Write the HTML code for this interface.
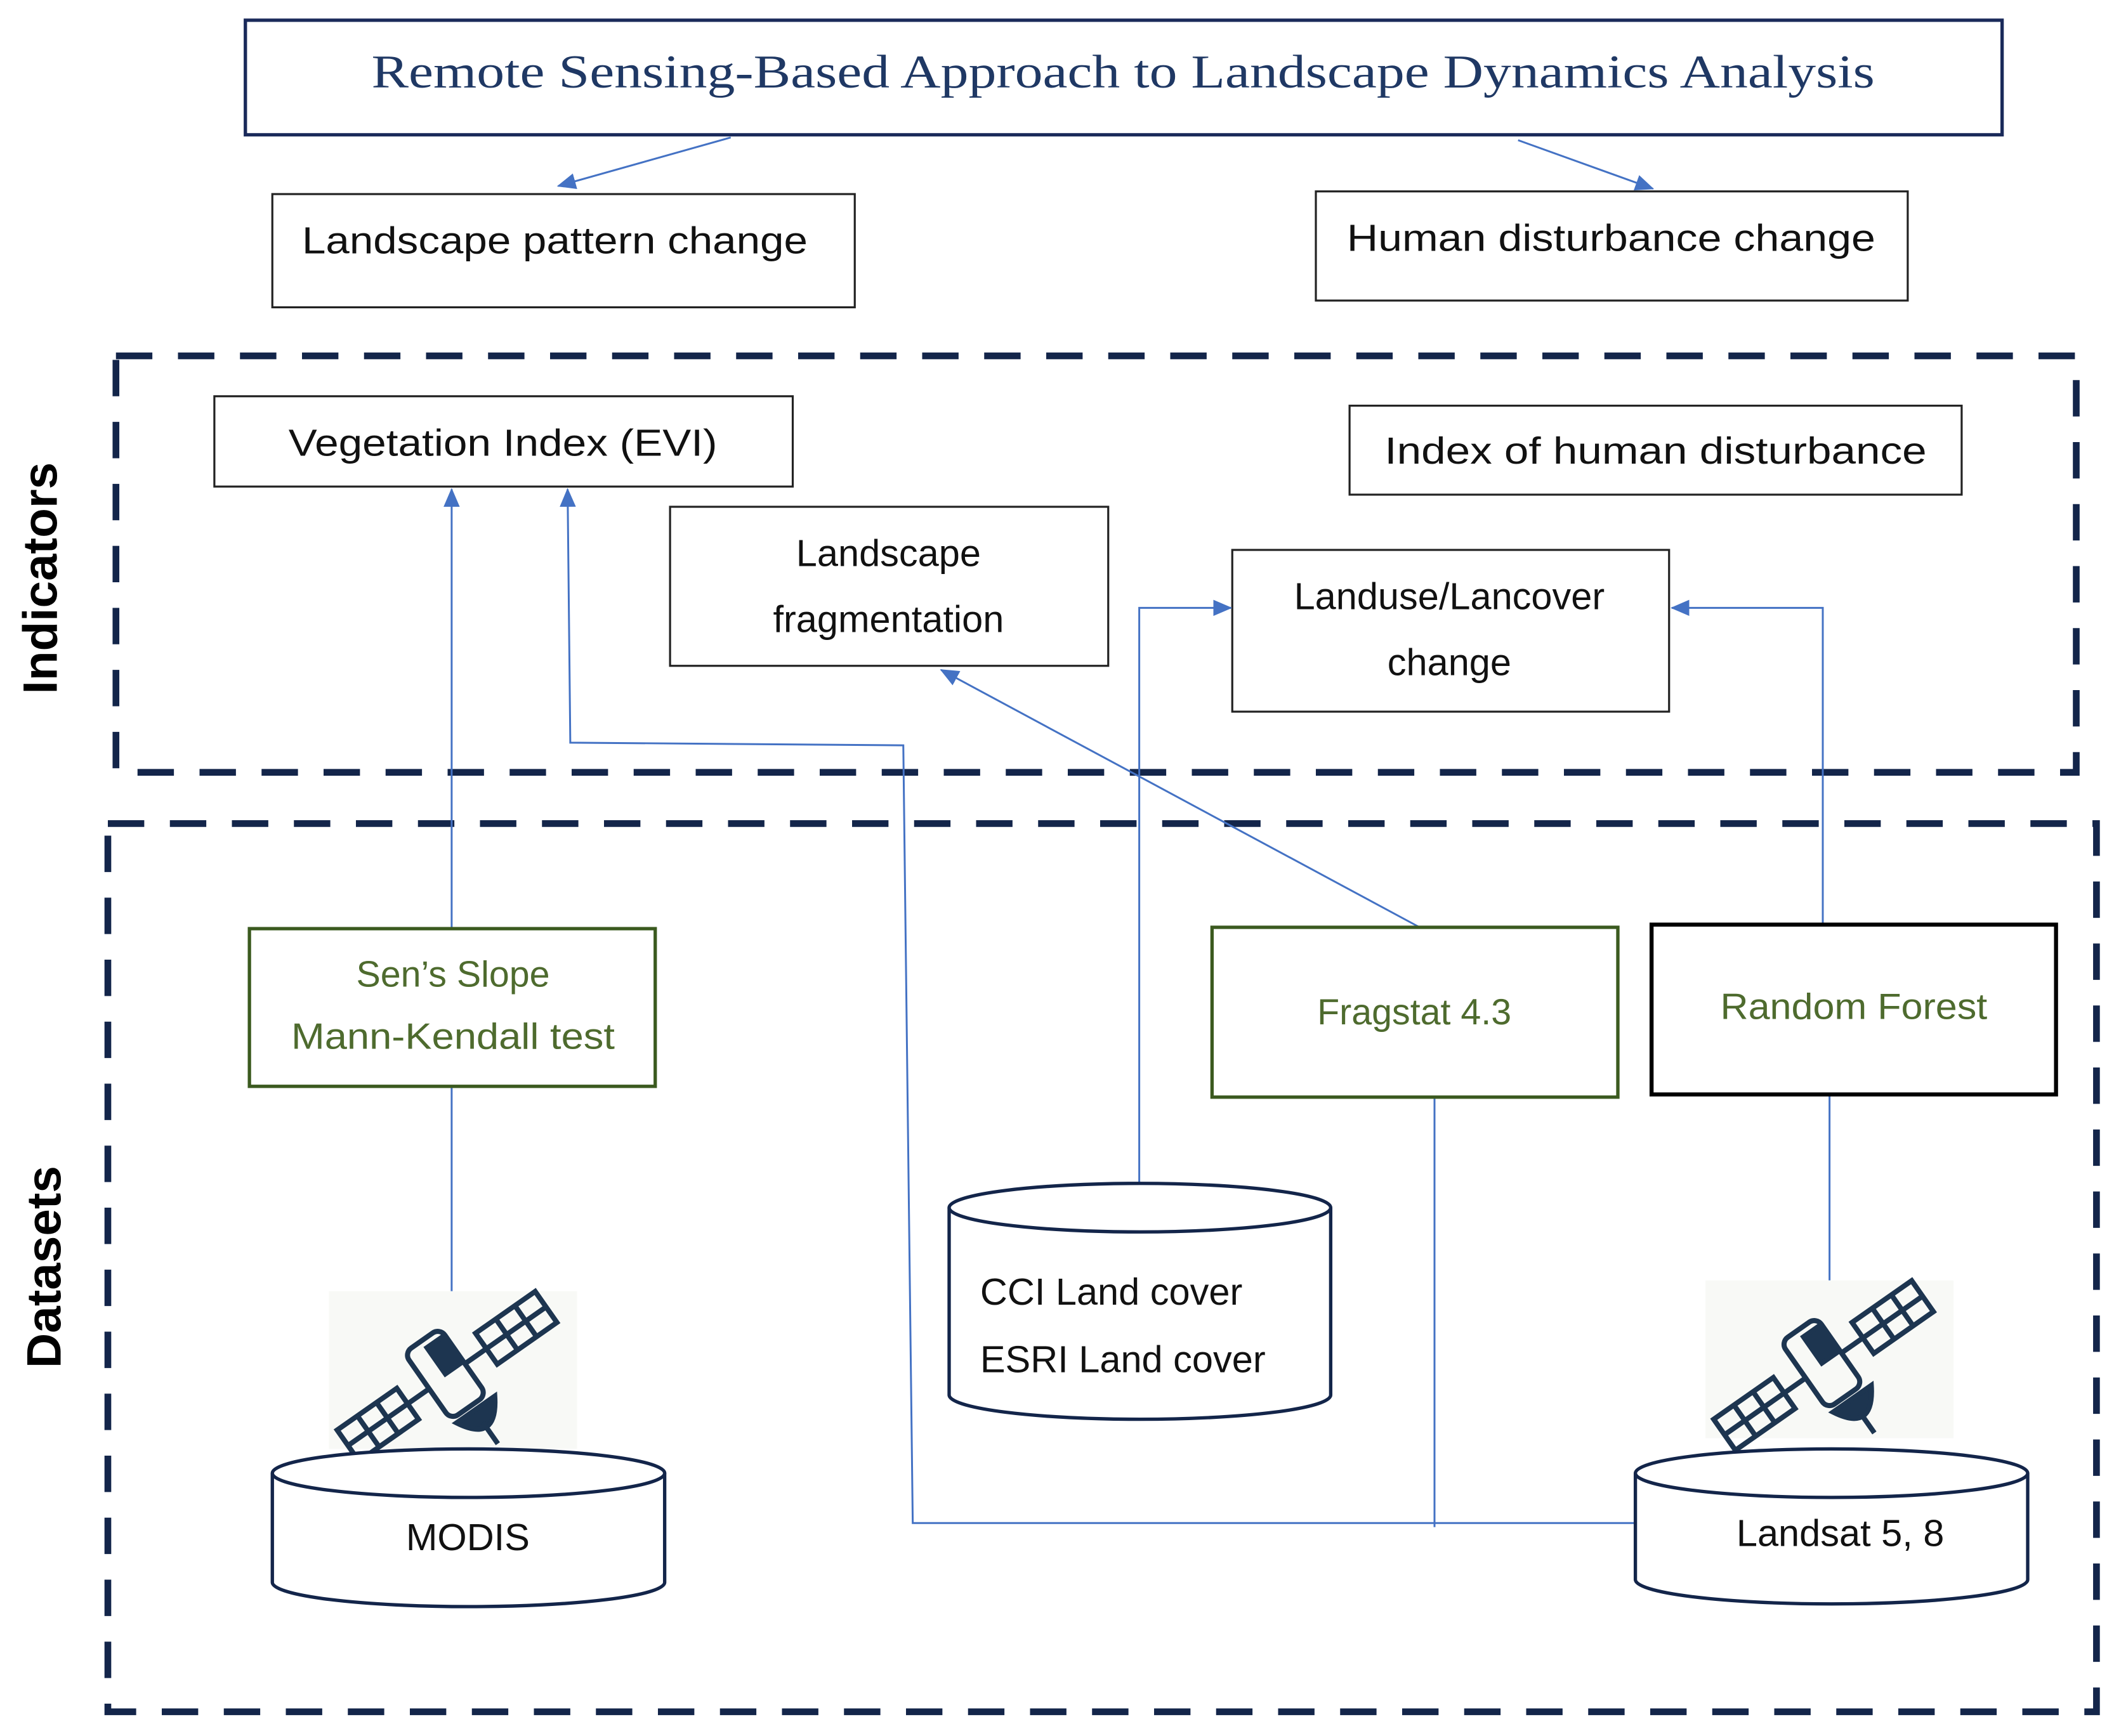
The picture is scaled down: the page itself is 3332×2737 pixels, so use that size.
<!DOCTYPE html>
<html><head><meta charset="utf-8"><style>html,body{margin:0;padding:0;background:#fff}svg{display:block}</style></head>
<body>
<svg xmlns="http://www.w3.org/2000/svg" width="3332" height="2737" viewBox="0 0 1568 1288" font-family="'Liberation Sans', sans-serif">
<defs>
<marker id="ar" markerWidth="14" markerHeight="12" refX="13" refY="6" orient="auto" markerUnits="userSpaceOnUse"><path d="M0,0 L14,6 L0,12 Z" fill="#4472C4"/></marker>
<g id="sat">
<rect x="0" y="0" width="184" height="117" fill="#f8f9f6"/>
<g transform="translate(92,60) rotate(-35) scale(1.08)" fill="none" stroke="#1d3550" stroke-width="3.5">
<rect x="-88" y="-13" width="50" height="26"/><line x1="-71" y1="-13" x2="-71" y2="13"/><line x1="-55" y1="-13" x2="-55" y2="13"/><line x1="-88" y1="0" x2="-38" y2="0"/>
<rect x="28" y="-13" width="50" height="26"/><line x1="45" y1="-13" x2="45" y2="13"/><line x1="61" y1="-13" x2="61" y2="13"/><line x1="28" y1="0" x2="78" y2="0"/>
<line x1="-38" y1="0" x2="-20" y2="0"/><line x1="10" y1="0" x2="28" y2="0"/>
<rect x="-20" y="-30" width="30" height="56" rx="6"/>
<rect x="-5" y="-24" width="12" height="22" fill="#1d3550"/>
<path d="M-18,30 Q-3,58 14,30 Z" fill="#1d3550"/>
<line x1="-3" y1="40" x2="-3" y2="58"/>
</g>
</g>
</defs>

<rect x="182" y="15" width="1303" height="85" fill="#fff" stroke="#1a2a5a" stroke-width="2.5"/>
<text x="833" y="65" text-anchor="middle" font-family="'Liberation Serif', serif" font-size="35" fill="#1F3864" textLength="1115" lengthAdjust="spacingAndGlyphs">Remote Sensing-Based Approach to Landscape Dynamics Analysis</text>

<g stroke="#4472C4" stroke-width="1.4" fill="none">
<line x1="542" y1="102" x2="414" y2="138" marker-end="url(#ar)"/>
<line x1="1126" y1="104" x2="1226" y2="140" marker-end="url(#ar)"/>
</g>

<g fill="#fff" stroke="#222" stroke-width="1.5">
<rect x="202" y="144" width="432" height="84"/>
<rect x="976" y="142" width="439" height="81"/>
<rect x="159" y="294" width="429" height="67"/>
<rect x="1001" y="301" width="454" height="66"/>
<rect x="497" y="376" width="325" height="118"/>
<rect x="914" y="408" width="324" height="120"/>
</g>
<g font-size="28" fill="#111">
<text x="224" y="188" textLength="375" lengthAdjust="spacingAndGlyphs">Landscape pattern change</text>
<text x="1195" y="186" text-anchor="middle" textLength="392" lengthAdjust="spacingAndGlyphs">Human disturbance change</text>
<text x="373" y="338" text-anchor="middle" textLength="318" lengthAdjust="spacingAndGlyphs">Vegetation Index (EVI)</text>
<text x="1228" y="344" text-anchor="middle" textLength="402" lengthAdjust="spacingAndGlyphs">Index of human disturbance</text>
<text x="659" y="420" text-anchor="middle">Landscape</text>
<text x="659" y="469" text-anchor="middle">fragmentation</text>
<text x="1075" y="452" text-anchor="middle">Landuse/Lancover</text>
<text x="1075" y="501" text-anchor="middle">change</text>
</g>

<g fill="none" stroke="#13254a" stroke-width="5" stroke-dasharray="27 19">
<rect x="86" y="264" width="1454" height="309"/>
<rect x="80" y="611" width="1475" height="659"/>
</g>
<text transform="translate(42,429) rotate(-90)" text-anchor="middle" font-size="36" font-weight="bold" fill="#000">Indicators</text>
<text transform="translate(45,940) rotate(-90)" text-anchor="middle" font-size="36" font-weight="bold" fill="#000">Datasets</text>

<g stroke="#4472C4" stroke-width="1.4" fill="none">
<line x1="335" y1="958" x2="335" y2="806"/>
<line x1="335" y1="689" x2="335" y2="363" marker-end="url(#ar)"/>
<polyline points="1213,1130 677,1130 670,553 423,551 421,363" marker-end="url(#ar)"/>
<line x1="1064" y1="1133" x2="1064" y2="814"/>
<line x1="1053" y1="688" x2="698" y2="497" marker-end="url(#ar)"/>
<polyline points="845,878 845,451 913,451" marker-end="url(#ar)"/>
<line x1="1357" y1="950" x2="1357" y2="812"/>
<polyline points="1352,686 1352,451 1240,451" marker-end="url(#ar)"/>
</g>

<rect x="185" y="689" width="301" height="117" fill="#fff" stroke="#3b5a1f" stroke-width="2.5"/>
<rect x="899" y="688" width="301" height="126" fill="#fff" stroke="#3b5a1f" stroke-width="2.5"/>
<rect x="1225" y="686" width="300" height="126" fill="#fff" stroke="#000" stroke-width="3"/>
<g font-size="27" fill="#4e6b2e" text-anchor="middle">
<text x="336" y="732">Sen’s Slope</text>
<text x="336" y="778" textLength="240" lengthAdjust="spacingAndGlyphs">Mann-Kendall test</text>
<text x="1049" y="760">Fragstat 4.3</text>
<text x="1375" y="756" textLength="198" lengthAdjust="spacingAndGlyphs">Random Forest</text>
</g>

<use href="#sat" x="244" y="958"/>
<use href="#sat" x="1265" y="950"/>

<g fill="#fff" stroke="#13254a" stroke-width="2.5">
<path d="M704,896 L704,1035 A141.5,18 0 0 0 987,1035 L987,896"/>
<ellipse cx="845.5" cy="896" rx="141.5" ry="18"/>
<path d="M202,1093 L202,1174 A145.5,18 0 0 0 493,1174 L493,1093"/>
<ellipse cx="347.5" cy="1093" rx="145.5" ry="18"/>
<path d="M1213,1093 L1213,1172 A145.5,18 0 0 0 1504,1172 L1504,1093"/>
<ellipse cx="1358.5" cy="1093" rx="145.5" ry="18"/>
</g>
<g font-size="28" fill="#111">
<text x="727" y="968">CCI Land cover</text>
<text x="727" y="1018">ESRI Land cover</text>
<text x="347" y="1150" text-anchor="middle">MODIS</text>
<text x="1365" y="1147" text-anchor="middle">Landsat 5, 8</text>
</g>
</svg>
</body></html>
